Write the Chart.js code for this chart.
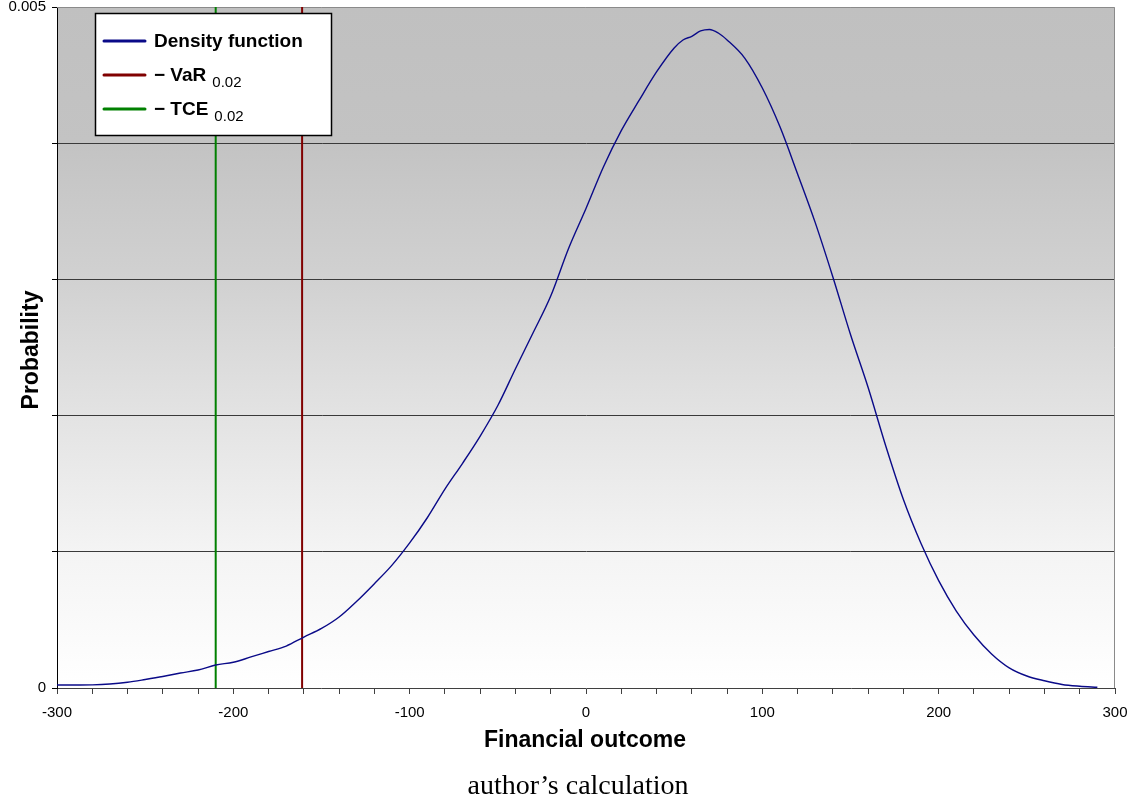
<!DOCTYPE html>
<html>
<head>
<meta charset="utf-8">
<title>Density function, VaR and TCE</title>
<script src="https://cdn.jsdelivr.net/npm/chart.js@4.4.1/dist/chart.umd.min.js"></script>
<style>
  html, body { margin: 0; padding: 0; background: #ffffff; }
  #wrap { width: 1137px; height: 805px; }
</style>
</head>
<body>
<div id="wrap"><canvas id="chart" width="1137" height="805"></canvas></div>
<script>
// Financial outcome grid (x) and estimated probability density (y)
const outcomes = [
  -300, -290, -280, -270, -260, -250, -240, -230, -220, -210,
  -200, -190, -180, -170, -160, -150, -140, -130, -120, -110,
  -100, -90, -80, -70, -60, -50, -40, -30, -20, -10,
  0, 10, 20, 30, 40, 50, 55, 60, 65, 70,
  75, 80, 90, 100, 110, 120, 130, 140, 150, 160,
  170, 180, 190, 200, 210, 220, 230, 240, 250, 260,
  270, 280, 290
];
const density = [
  0.000022, 0.000022, 0.000023, 0.000029, 0.000042, 0.000062, 0.000084, 0.000110, 0.000132, 0.000169,
  0.000189, 0.000228, 0.000268, 0.000308, 0.000374, 0.000437, 0.000521, 0.000637, 0.000766, 0.000902,
  0.001065, 0.001250, 0.001460, 0.001650, 0.001850, 0.002074, 0.002344, 0.002608, 0.002878, 0.003224,
  0.003521, 0.003829, 0.004092, 0.004312, 0.004523, 0.004699, 0.004758, 0.004785, 0.004824, 0.004835,
  0.004809, 0.004758, 0.004625, 0.004405, 0.004120, 0.003774, 0.003417, 0.003018, 0.002595, 0.002206,
  0.001777, 0.001384, 0.001061, 0.000788, 0.000565, 0.000389, 0.000250, 0.000148, 0.000088, 0.000053,
  0.000026, 0.000013, 0.000005
];

// Risk measures at the 2% level
const varLevel = -161;
const tceLevel = -210;

// Axis ranges and tick steps
const xRange = [-300, 300];
const xTickStep = 20;
const xLabelStep = 100;
const yRange = [0, 0.005];
const yTickStep = 0.001;
const yLabelled = [0, 0.005];

// Legend texts
const seriesNames = ['Density function', '\u2212 VaR', '\u2212 TCE'];
const seriesSubscripts = ['', '0.02', '0.02'];
const xTitle = 'Financial outcome';
const yTitle = 'Probability';
const sourceNote = 'author\u2019s calculation';

const densityPoints = outcomes.map((x, i) => ({ x: x, y: density[i] }));
const verticalAt = (x) => [{ x: x, y: yRange[0] }, { x: x, y: yRange[1] }];

const SANS = '"Liberation Sans", Arial, sans-serif';

// Plot background, frame, legend, axis titles and the source note
const decorations = {
  id: 'decorations',
  beforeDraw(chart) {
    const { ctx, chartArea: a } = chart;
    ctx.save();
    const g = ctx.createLinearGradient(0, a.top, 0, a.bottom);
    g.addColorStop(0.0, '#c0c0c0');
    g.addColorStop(0.2, '#c3c3c3');
    g.addColorStop(0.4, '#d1d1d1');
    g.addColorStop(0.6, '#e3e3e3');
    g.addColorStop(0.8, '#f4f4f4');
    g.addColorStop(1.0, '#ffffff');
    ctx.fillStyle = g;
    ctx.fillRect(a.left, a.top, a.right - a.left, a.bottom - a.top);
    ctx.restore();
  },
  beforeDatasetsDraw(chart) {
    const { ctx, chartArea: a } = chart;
    ctx.save();
    // top and right frame of the plot area
    ctx.strokeStyle = '#8a8a8a';
    ctx.lineWidth = 1;
    ctx.beginPath();
    ctx.moveTo(a.left, a.top + 0.5);
    ctx.lineTo(a.right - 0.5, a.top + 0.5);
    ctx.lineTo(a.right - 0.5, a.bottom);
    ctx.stroke();
    ctx.restore();
  },
  afterDraw(chart) {
    const { ctx } = chart;
    ctx.save();

    // legend box
    const bx = 95.5, by = 13.5, bw = 236, bh = 122;
    ctx.fillStyle = '#ffffff';
    ctx.fillRect(bx, by, bw, bh);
    ctx.strokeStyle = '#000000';
    ctx.lineWidth = 1.5;
    ctx.strokeRect(bx, by, bw, bh);

    const rowY = [41, 75, 109];
    chart.data.datasets.forEach((ds, i) => {
      ctx.strokeStyle = ds.borderColor;
      ctx.lineWidth = 3;
      ctx.lineCap = 'round';
      ctx.beginPath();
      ctx.moveTo(104, rowY[i]);
      ctx.lineTo(145, rowY[i]);
      ctx.stroke();

      ctx.fillStyle = '#000000';
      ctx.textAlign = 'left';
      ctx.textBaseline = 'middle';
      ctx.font = 'bold 19px ' + SANS;
      ctx.fillText(ds.label, 154, rowY[i] + 1);
      const w = ctx.measureText(ds.label).width;
      if (seriesSubscripts[i]) {
        ctx.font = '15px ' + SANS;
        ctx.fillText(seriesSubscripts[i], 154 + w + 6, rowY[i] + 8);
      }
    });

    // axis titles
    ctx.fillStyle = '#000000';
    ctx.font = 'bold 23px ' + SANS;
    ctx.textAlign = 'center';
    ctx.textBaseline = 'middle';
    ctx.fillText(xTitle, 585, 741);

    ctx.save();
    ctx.translate(32, 350);
    ctx.rotate(-Math.PI / 2);
    ctx.fillText(yTitle, 0, 0);
    ctx.restore();

    // source note
    ctx.font = '28px "Liberation Serif", "Times New Roman", serif';
    ctx.textBaseline = 'alphabetic';
    ctx.fillText(sourceNote, 578, 794);

    ctx.restore();
  }
};

new Chart(document.getElementById('chart'), {
  type: 'scatter',
  data: {
    datasets: [
      {
        label: seriesNames[0],
        data: densityPoints,
        showLine: true,
        borderColor: '#0a0a88',
        borderWidth: 1.4,
        pointRadius: 0,
        cubicInterpolationMode: 'monotone',
        fill: false
      },
      {
        label: seriesNames[1],
        data: verticalAt(varLevel),
        showLine: true,
        borderColor: '#800000',
        borderWidth: 2,
        pointRadius: 0
      },
      {
        label: seriesNames[2],
        data: verticalAt(tceLevel),
        showLine: true,
        borderColor: '#008000',
        borderWidth: 2,
        pointRadius: 0
      }
    ]
  },
  options: {
    responsive: false,
    animation: false,
    events: [],
    layout: { padding: { left: 0, top: 7, right: 22, bottom: 0 } },
    plugins: {
      legend: { display: false },
      tooltip: { enabled: false },
      title: { display: false }
    },
    scales: {
      x: {
        type: 'linear',
        min: xRange[0],
        max: xRange[1],
        border: { display: true, color: '#404040', width: 1 },
        grid: {
          drawOnChartArea: false,
          drawTicks: true,
          tickLength: 6,
          tickColor: '#404040'
        },
        ticks: {
          stepSize: xTickStep,
          autoSkip: false,
          maxRotation: 0,
          padding: 10,
          color: '#000000',
          font: { family: SANS, size: 15 },
          callback: (v) => (v % xLabelStep === 0 ? String(v) : '')
        },
        afterFit(scale) {
          scale.height = 117;
          scale.paddingLeft = 0;
          scale.paddingRight = 0;
        }
      },
      y: {
        type: 'linear',
        min: yRange[0],
        max: yRange[1],
        border: { display: true, color: '#000000', width: 1 },
        grid: {
          drawOnChartArea: true,
          drawTicks: true,
          tickLength: 5,
          tickColor: '#000000',
          lineWidth: 1,
          color: (c) => {
            const v = c.tick ? c.tick.value : 0;
            if (Math.abs(v - yRange[1]) < 1e-9) return 'rgba(0,0,0,0)';
            if (Math.abs(v - yRange[0]) < 1e-9) return 'rgba(0,0,0,0)';
            return '#3a3a3a';
          }
        },
        ticks: {
          stepSize: yTickStep,
          padding: 6,
          color: '#000000',
          font: { family: SANS, size: 15 },
          callback: (v) => {
            const hit = yLabelled.find((t) => Math.abs(t - v) < 1e-9);
            return hit === undefined ? '' : String(hit);
          }
        },
        afterFit(scale) {
          scale.width = 57;
          scale.paddingTop = 0;
          scale.paddingBottom = 0;
        }
      }
    }
  },
  plugins: [decorations]
});
</script>
</body>
</html>
